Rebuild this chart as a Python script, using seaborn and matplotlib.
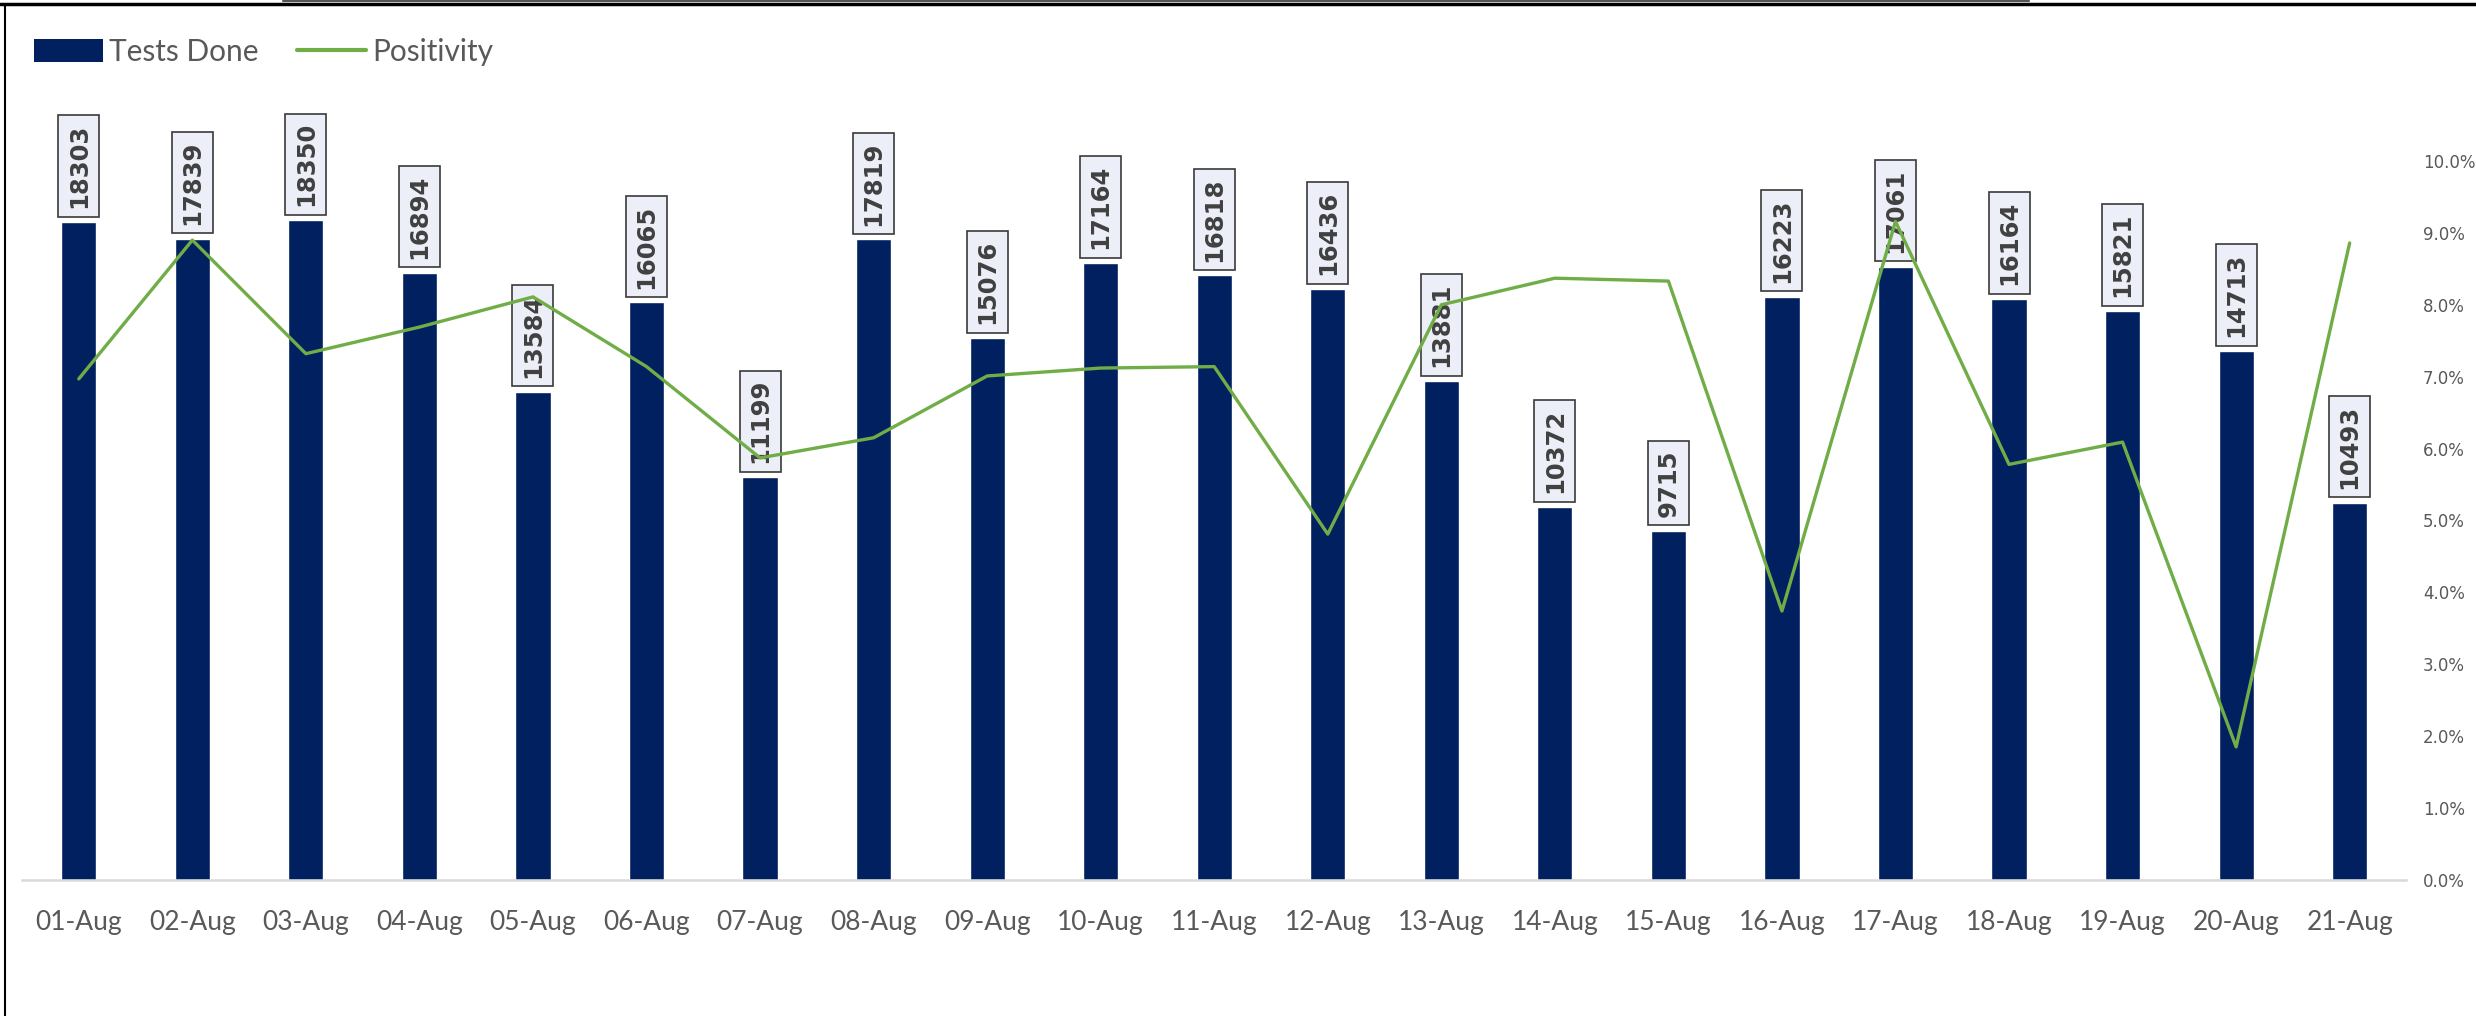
import numpy as np
import matplotlib
matplotlib.use('Agg')
import matplotlib.pyplot as plt
from matplotlib.patches import Patch
from matplotlib.lines import Line2D
from matplotlib.ticker import PercentFormatter
import seaborn as sns

# Data
dates = ['01-Aug', '02-Aug', '03-Aug', '04-Aug', '05-Aug', '06-Aug', '07-Aug',
         '08-Aug', '09-Aug', '10-Aug', '11-Aug', '12-Aug', '13-Aug', '14-Aug',
         '15-Aug', '16-Aug', '17-Aug', '18-Aug', '19-Aug', '20-Aug', '21-Aug']
tests_done = [18303, 17839, 18350, 16894, 13584, 16065, 11199,
              17819, 15076, 17164, 16818, 16436, 13881, 10372,
              9715, 16223, 17061, 16164, 15821, 14713, 10493]
positivity = [0.0697, 0.0890, 0.0732, 0.0769, 0.0811, 0.0714, 0.0587,
              0.0615, 0.0701, 0.0712, 0.0714, 0.0481, 0.0800, 0.0837,
              0.0833, 0.0374, 0.0916, 0.0578, 0.0609, 0.0185, 0.0886]

BAR_COLOR = '#002060'
LINE_COLOR = '#70AD47'
TEXT_GRAY = '#595959'

sns.set_style('white')
plt.rcParams['font.family'] = ['Lato', 'DejaVu Sans']

fig = plt.figure(figsize=(24.76, 10.16), dpi=100)
ax = fig.add_axes([0.0089, 0.134, 0.9630, 0.7075])

# Bars: tests done
sns.barplot(x=dates, y=tests_done, color=BAR_COLOR, width=0.31, ax=ax,
            saturation=1, zorder=2)
ax.set_ylim(0, 20000)
ax.set_xlim(-0.5, len(dates) - 0.5)
ax.set_yticks([])
for s in ['left', 'right', 'top']:
    ax.spines[s].set_visible(False)
ax.spines['bottom'].set_color('#D9D9D9')
ax.spines['bottom'].set_linewidth(1.8)
ax.tick_params(axis='x', length=0, pad=22, labelsize=19, labelcolor=TEXT_GRAY)
ax.set_xlabel('')
ax.set_ylabel('')

# Data labels in boxes
for i, v in enumerate(tests_done):
    ax.annotate(str(v), xy=(i, v), xytext=(0, 10), textcoords='offset points',
                rotation=90, ha='center', va='bottom', fontsize=17.5,
                fontweight='bold', color='#404040', family='DejaVu Sans',
                bbox=dict(boxstyle='square,pad=0.35', fc=(0.914, 0.929, 0.965, 0.85),
                          ec='#3a3a3a', lw=1.2),
                zorder=5, annotation_clip=False)

# Line: positivity on secondary axis
ax2 = ax.twinx()
sns.lineplot(x=np.arange(len(dates)), y=positivity, color=LINE_COLOR,
             linewidth=2.4, ax=ax2, zorder=3)
ax2.set_ylim(0, 0.10)
ax2.set_yticks(np.arange(0, 0.1001, 0.01))
ax2.yaxis.set_major_formatter(PercentFormatter(1.0, decimals=1))
ax2.tick_params(axis='y', length=0, pad=12, labelsize=12, labelcolor=TEXT_GRAY)
for lbl in ax2.get_yticklabels():
    lbl.set_family('DejaVu Sans')
for s in ['left', 'right', 'top', 'bottom']:
    ax2.spines[s].set_visible(False)
ax2.set_ylabel('')

# Legend
handles = [Patch(facecolor=BAR_COLOR, edgecolor='none', label='Tests Done'),
           Line2D([0], [0], color=LINE_COLOR, lw=3, label='Positivity')]
fig.legend(handles=handles, loc='center left', bbox_to_anchor=(0.003, 0.949),
           ncol=2, frameon=False, fontsize=21.5, labelcolor=TEXT_GRAY,
           handlelength=2.3, handleheight=0.8, handletextpad=0.2, columnspacing=1.3)

# Frame lines from the original screenshot
fig.add_artist(Line2D([0, 1], [1 - 4 / 1016, 1 - 4 / 1016], color='black', lw=2.5,
                      transform=fig.transFigure))
fig.add_artist(Line2D([5 / 2476, 5 / 2476], [0, 1 - 4 / 1016], color='black', lw=1.5,
                      transform=fig.transFigure))
fig.add_artist(Line2D([283 / 2476, 2029 / 2476], [1 - 0.5 / 1016, 1 - 0.5 / 1016],
                      color='#555555', lw=1.5, transform=fig.transFigure))

fig.savefig('out.png', dpi=100)
